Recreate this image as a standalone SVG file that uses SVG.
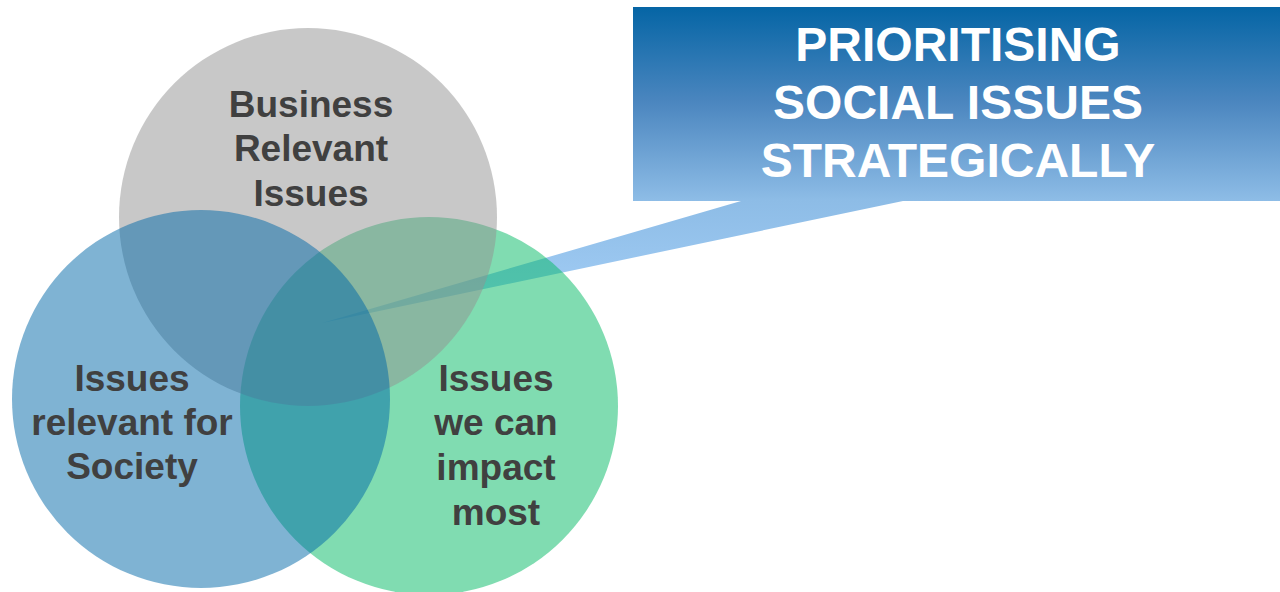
<svg xmlns="http://www.w3.org/2000/svg" width="1280" height="592" viewBox="0 0 1280 592">
  <defs>
    <linearGradient id="calloutGrad" gradientUnits="userSpaceOnUse" x1="0" y1="7" x2="0" y2="323">
      <stop offset="0" stop-color="#0565a5"/>
      <stop offset="0.3" stop-color="#4b86bf"/>
      <stop offset="0.61" stop-color="#8dbce6"/>
      <stop offset="1" stop-color="#a6d0f8"/>
    </linearGradient>
    <style>
      .lbl { font-family: "Liberation Sans", Arial, sans-serif; font-weight: bold; font-size: 37px; fill: #404040; text-anchor: middle; }
      .title { font-family: "Liberation Sans", Arial, sans-serif; font-weight: bold; font-size: 48px; fill: #ffffff; text-anchor: middle; }
      .venn { fill-opacity: 0.5; }
    </style>
  </defs>
  <rect width="1280" height="592" fill="#ffffff"/>

  <g id="callout">
    <path d="M633 7 H1280 V201 H903 L322 323 L741 201 H633 Z" fill="url(#calloutGrad)"/>
    <text class="title" x="958" y="61">PRIORITISING</text>
    <text class="title" x="958" y="119">SOCIAL ISSUES</text>
    <text class="title" x="958" y="177">STRATEGICALLY</text>
  </g>

  <g id="connectors"></g>

  <g id="impact">
    <circle class="venn" cx="429" cy="406" r="189" fill="#01b963"/>
    <text class="lbl" x="496" y="391">Issues</text>
    <text class="lbl" x="496" y="435">we can</text>
    <text class="lbl" x="496" y="480">impact</text>
    <text class="lbl" x="496" y="525">most</text>
  </g>

  <g id="business">
    <circle class="venn" cx="308" cy="217" r="189" fill="#919191"/>
    <text class="lbl" x="311" y="117">Business</text>
    <text class="lbl" x="311" y="161">Relevant</text>
    <text class="lbl" x="311" y="206">Issues</text>
  </g>

  <g id="society">
    <circle class="venn" cx="201" cy="399" r="189" fill="#0067a7"/>
    <text class="lbl" x="132" y="391">Issues</text>
    <text class="lbl" x="132" y="435">relevant for</text>
    <text class="lbl" x="132" y="479">Society</text>
  </g>
</svg>
